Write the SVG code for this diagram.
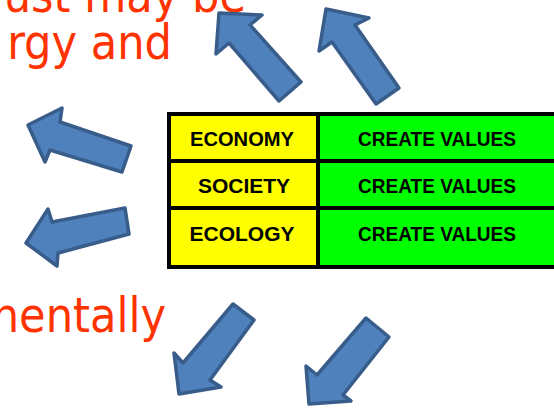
<svg xmlns="http://www.w3.org/2000/svg" width="554" height="409" viewBox="0 0 554 409">
<style>
.red{font-family:"DejaVu Sans Condensed","DejaVu Sans",sans-serif;font-stretch:condensed;font-size:48px;fill:#ff3300}
.cell{font-family:"Liberation Sans",Arial,sans-serif;font-weight:bold;font-size:21px;fill:#000;text-anchor:middle}
.arrow{fill:#4f81bd;stroke:#385d8a;stroke-width:3.5;stroke-linejoin:round}
.line{stroke:#000;stroke-width:4;fill:none}
</style>
<rect width="554" height="409" fill="#fff"/>
<g id="caption">
<text class="red" x="246" y="12" text-anchor="end">ust may be</text>
<text class="red" x="172" y="59" text-anchor="end">rgy and</text>
<text class="red" x="166" y="332" text-anchor="end">nentally</text>
</g>
<g id="connectors">
<polygon class="arrow" points="219,13 216,54 229,43 279,101 301,82 250,25 262,15"/>
<polygon class="arrow" points="326,9 319,51 332,42 376,104 399,88 355,25 369,18"/>
<polygon class="arrow" points="28,125 62,108 60,122 131,146 122,172 50,150 45,162"/>
<polygon class="arrow" points="26,243 48,209 52,222 125,208 129,234 58,253 57,266"/>
<polygon class="arrow" points="179,394 174,353 183,363 233,304 254,320 210,380 221,387"/>
<polygon class="arrow" points="309,404 306,366 317,375 366,318 389,337 343,395 351,401"/>
</g>
<g id="table">
<rect x="169" y="114" width="149" height="153" fill="#ffff00"/>
<rect x="318" y="114" width="240" height="153" fill="#00ff00"/>
<path class="line" d="M560,114 H169 V267 H560 M318,114 V267 M169,161 H560 M169,208 H560"/>
</g>
<g id="economy"><text class="cell" x="242" y="146" textLength="104" lengthAdjust="spacingAndGlyphs">ECONOMY</text></g>
<g id="society"><text class="cell" x="244" y="193">SOCIETY</text></g>
<g id="ecology"><text class="cell" x="242" y="241">ECOLOGY</text></g>
<g id="value1"><text class="cell" x="437" y="146" textLength="158" lengthAdjust="spacingAndGlyphs">CREATE VALUES</text></g>
<g id="value2"><text class="cell" x="437" y="193" textLength="158" lengthAdjust="spacingAndGlyphs">CREATE VALUES</text></g>
<g id="value3"><text class="cell" x="437" y="241" textLength="158" lengthAdjust="spacingAndGlyphs">CREATE VALUES</text></g>
</svg>
